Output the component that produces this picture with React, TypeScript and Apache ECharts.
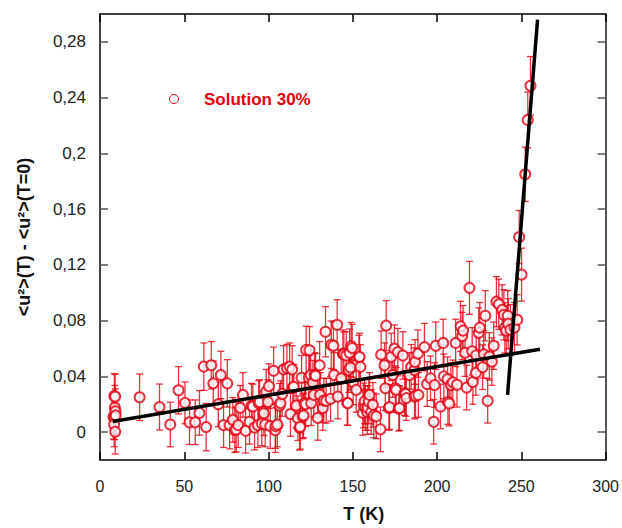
import React, { useEffect, useRef } from "react";
import * as echarts from "echarts";

// [T (K), <u²>(T)-<u²>(T=0), error]
const POINTS: number[][] = [
  [8, 0.011, 0.016], [8.5, 0.026, 0.016], [9, 0.0255, 0.016], [8.8, 0.0175, 0.016], [9.2, 0.015, 0.016],
  [8.6, 0.0106, 0.016], [8.4, 0.0055, 0.016], [9, 0.0003, 0.016], [9.3, 0.012, 0.014],
  [23.5, 0.025, 0.0167], [35.3, 0.018, 0.0165], [41.7, 0.0055, 0.016], [46.6, 0.03, 0.017], [50.4, 0.021, 0.015],
  [53.1, 0.0071, 0.016], [56.5, 0.0071, 0.016], [59, 0.0138, 0.016], [61.6, 0.047, 0.017], [63, 0.0036, 0.017],
  [66, 0.048, 0.017], [67.2, 0.035, 0.016], [70.2, 0.02, 0.016], [71.7, 0.041, 0.017], [73.3, 0.005, 0.016],
  [75.5, 0.035, 0.017], [76.9, 0.005, 0.017], [78.8, 0.0088, 0.016], [80, 0.0014, 0.016], [80.8, 0.0019, 0.016],
  [82, 0.005, 0.016], [83.2, 0.0175, 0.016], [84.8, 0.0267, 0.016], [86.4, 0.001, 0.016], [88.7, 0.0074, 0.016],
  [89.9, 0.019, 0.016], [90.7, 0.0184, 0.016], [91.7, 0.0033, 0.016], [93.7, 0.005, 0.016], [94.2, 0.0208, 0.016],
  [94.7, 0.0216, 0.016], [96, 0.0062, 0.016], [97.2, 0.0135, 0.016], [98, 0.0055, 0.016], [98.6, 0.029, 0.016],
  [99.6, 0.0216, 0.016], [100.2, 0.033, 0.016], [101, 0.0043, 0.016], [103, 0.044, 0.017], [104, 0.0014, 0.016],
  [104.2, 0.0043, 0.016], [105.2, 0.0055, 0.016], [106.5, 0.019, 0.016], [107.1, 0.0208, 0.016], [108.1, 0.0274, 0.016],
  [108.9, 0.045, 0.017], [110.9, 0.046, 0.017], [112.5, 0.047, 0.017], [113, 0.013, 0.016], [114, 0.045, 0.017],
  [114.4, 0.032, 0.016], [115, 0.0326, 0.016], [116.4, 0.019, 0.016], [117.4, 0.01, 0.016], [118.4, 0.0031, 0.016],
  [118.8, 0.0038, 0.016], [119.6, 0.039, 0.016], [120.3, 0.0113, 0.016], [120.8, 0.012, 0.016], [121.3, 0.0208, 0.016],
  [122, 0.02, 0.016], [122.3, 0.059, 0.017], [123.9, 0.039, 0.016], [124.3, 0.0587, 0.017], [125, 0.041, 0.016],
  [125.3, 0.0208, 0.016], [126.3, 0.0355, 0.016], [126.8, 0.0267, 0.016], [127.3, 0.041, 0.016], [127.9, 0.0404, 0.016],
  [129.2, 0.0102, 0.016], [130.3, 0.048, 0.017], [130.6, 0.0267, 0.016], [132.2, 0.0173, 0.016], [132.8, 0.0227, 0.016],
  [133.8, 0.072, 0.018], [134.2, 0.0225, 0.016], [136.8, 0.0239, 0.016], [137.2, 0.0627, 0.017], [138.5, 0.062, 0.017],
  [138.9, 0.041, 0.016], [140.7, 0.077, 0.018], [141.1, 0.0255, 0.016], [143.1, 0.0386, 0.016], [144.1, 0.0563, 0.017],
  [144.7, 0.0558, 0.016], [146.1, 0.055, 0.017], [146.7, 0.021, 0.016], [147, 0.0208, 0.016], [147.6, 0.0445, 0.016],
  [148.1, 0.057, 0.017], [148.6, 0.0464, 0.016], [149, 0.0617, 0.017], [149.6, 0.0603, 0.017], [150.2, 0.0357, 0.016],
  [152, 0.0303, 0.016], [153.6, 0.0535, 0.016], [154, 0.054, 0.017], [154.5, 0.0468, 0.016], [155.9, 0.0138, 0.016],
  [156.5, 0.0192, 0.016], [157, 0.022, 0.016], [157.5, 0.0173, 0.016], [158.5, 0.0145, 0.016], [158.9, 0.0173, 0.016],
  [159.5, 0.022, 0.016], [159.9, 0.0267, 0.016], [160.9, 0.0145, 0.016], [161.9, 0.0196, 0.016], [162.4, 0.012, 0.016],
  [163.9, 0.0113, 0.016], [166.4, 0.002, 0.016], [166.8, 0.0556, 0.017], [168.8, 0.048, 0.016], [169.3, 0.0315, 0.016],
  [169.8, 0.0764, 0.018], [171.4, 0.0173, 0.016], [171.8, 0.018, 0.016], [172.8, 0.054, 0.017], [173.7, 0.041, 0.016],
  [174.7, 0.0599, 0.017], [175.2, 0.0315, 0.016], [175.7, 0.0303, 0.016], [176.7, 0.0574, 0.017], [177.3, 0.0168, 0.016],
  [177.7, 0.0173, 0.016], [179.7, 0.055, 0.017], [180.7, 0.028, 0.016], [181.3, 0.0274, 0.016], [181.7, 0.0244, 0.016],
  [183.6, 0.041, 0.016], [184.6, 0.0468, 0.016], [186.6, 0.0445, 0.016], [186.9, 0.0503, 0.016], [186.6, 0.0255, 0.016],
  [187.2, 0.0262, 0.016], [188.6, 0.0563, 0.017], [188.9, 0.0267, 0.016], [192.5, 0.061, 0.017], [194.1, 0.0345, 0.016],
  [196.1, 0.0386, 0.016], [198, 0.0074, 0.016], [198.5, 0.0338, 0.016], [199.2, 0.062, 0.017], [202, 0.0184, 0.016],
  [203.6, 0.064, 0.017], [204, 0.04, 0.016], [206.2, 0.038, 0.016], [206.4, 0.0216, 0.016], [207.2, 0.0205, 0.016],
  [208.2, 0.0338, 0.016], [209.3, 0.0357, 0.016], [211, 0.064, 0.017], [211.8, 0.034, 0.016], [213.9, 0.0759, 0.018],
  [214.9, 0.069, 0.017], [215.4, 0.0728, 0.018], [216.6, 0.057, 0.017], [217.5, 0.032, 0.016], [219.2, 0.1035, 0.019],
  [220.8, 0.058, 0.017], [221.2, 0.036, 0.016], [223, 0.0425, 0.016], [223.2, 0.0551, 0.017], [224.7, 0.0712, 0.018],
  [225.3, 0.075, 0.018], [227, 0.0466, 0.016], [227.7, 0.0558, 0.017], [228.6, 0.0835, 0.018], [230, 0.0225, 0.016],
  [231, 0.0543, 0.017], [232.5, 0.0506, 0.017], [233.6, 0.062, 0.017], [235.2, 0.0936, 0.018], [236.6, 0.0918, 0.018],
  [238.6, 0.0877, 0.018], [239.6, 0.0842, 0.018], [240.2, 0.0748, 0.018], [241, 0.0728, 0.018], [241.9, 0.0835, 0.018],
  [242.2, 0.0778, 0.018], [243.5, 0.0735, 0.018], [245.9, 0.075, 0.018], [247.5, 0.0806, 0.018], [248.7, 0.14, 0.019],
  [250.1, 0.113, 0.019], [252.3, 0.185, 0.0195], [253.8, 0.224, 0.02], [255.4, 0.2485, 0.021],
];

const FIT_LOW: number[][] = [[7.5, 0.0076], [261, 0.0595]];
const FIT_HIGH: number[][] = [[241.8, 0.0267], [259.6, 0.296]];

const Y_TICKS = [0, 0.04, 0.08, 0.12, 0.16, 0.2, 0.24, 0.28];
const X_TICKS = [0, 50, 100, 150, 200, 250, 300];

const SERIES_NAME = "Solution 30%";
const X_NAME = "T (K)";
const Y_NAME = "<u²>(T) - <u²>(T=0)";

const RED = "#e3000f";
const FONT = "'Liberation Sans', Arial, sans-serif";

export default function App() {
  const ref = useRef<HTMLDivElement>(null);
  useEffect(() => {
    if (!ref.current) return;
    const chart = echarts.init(ref.current, null, { renderer: "svg" });
    const fmt = (v: number) => String(+Number(v).toFixed(2)).replace(".", ",");
    const grid = { left: 100, right: 16, top: 14, bottom: 62 };
    chart.setOption({
      animation: false,
      backgroundColor: "#fff",
      grid,
      xAxis: [
        {
          type: "value", min: 0, max: 300, interval: 50, position: "bottom",
          name: X_NAME, nameLocation: "middle", nameGap: 45,
          nameTextStyle: { fontFamily: FONT, fontSize: 18, fontWeight: "bold", color: "#111", padding: [0, 0, 0, 22] },
          axisLine: { show: true, onZero: false, lineStyle: { color: "#000", width: 1.5 } },
          axisTick: { show: true, inside: true, length: 8, lineStyle: { color: "#000", width: 1.5 } },
          axisLabel: { show: true, margin: 18, fontFamily: FONT, fontSize: 16, color: "#222", customValues: X_TICKS },
          splitLine: { show: false },
        },
        {
          type: "value", min: 0, max: 300, interval: 50, position: "top",
          axisLine: { show: true, onZero: false, lineStyle: { color: "#000", width: 1.5 } },
          axisTick: { show: true, inside: true, length: 8, lineStyle: { color: "#000", width: 1.5 } },
          axisLabel: { show: false },
          splitLine: { show: false },
        },
      ],
      yAxis: [
        {
          type: "value", min: -0.02, max: 0.3, position: "left",
          name: Y_NAME, nameLocation: "middle", nameGap: 67, nameRotate: 90,
          nameTextStyle: { fontFamily: FONT, fontSize: 18, fontWeight: "bold", color: "#111" },
          axisLine: { show: true, onZero: false, lineStyle: { color: "#000", width: 1.5 } },
          axisTick: { show: true, inside: true, length: 8, lineStyle: { color: "#555", width: 1.5 }, customValues: Y_TICKS },
          axisLabel: { show: true, margin: 14, fontFamily: FONT, fontSize: 17, color: "#222", customValues: Y_TICKS, formatter: fmt },
          splitLine: { show: false },
        },
        {
          type: "value", min: -0.02, max: 0.3, position: "right",
          axisLine: { show: true, onZero: false, lineStyle: { color: "#555", width: 2 } },
          axisTick: { show: true, inside: true, length: 8, lineStyle: { color: "#555", width: 1.5 }, customValues: Y_TICKS },
          axisLabel: { show: false },
          splitLine: { show: false },
        },
      ],
      series: [
        {
          type: "custom",
          name: "error",
          data: POINTS,
          encode: { x: 0, y: 1 },
          z: 2,
          silent: true,
          renderItem: (params: any, api: any) => {
            const x = api.value(0), y = api.value(1), e = api.value(2);
            const top = api.coord([x, y + e]);
            const bot = api.coord([x, y - e]);
            const hw = 3.5;
            const style = { stroke: "rgba(226,0,12,0.8)", lineWidth: 1.3, fill: null };
            return {
              type: "group",
              children: [
                { type: "line", shape: { x1: top[0], y1: top[1], x2: bot[0], y2: bot[1] }, style },
                { type: "line", shape: { x1: top[0] - hw, y1: top[1], x2: top[0] + hw, y2: top[1] }, style },
                { type: "line", shape: { x1: bot[0] - hw, y1: bot[1], x2: bot[0] + hw, y2: bot[1] }, style },
              ],
            };
          },
        },
        {
          type: "scatter",
          name: SERIES_NAME,
          data: POINTS.map((p) => [p[0], p[1]]),
          symbol: "emptyCircle",
          symbolSize: 10,
          z: 3,
          itemStyle: { color: RED, borderColor: RED, borderWidth: 1 },
        },
        {
          type: "line", data: FIT_LOW, showSymbol: false, symbol: "none", z: 4,
          lineStyle: { color: "#000", width: 3.5 },
        },
        {
          type: "line", data: FIT_HIGH, showSymbol: false, symbol: "none", z: 4,
          lineStyle: { color: "#000", width: 3.5 },
        },
      ],
      graphic: [
        { type: "circle", shape: { cx: 174, cy: 99, r: 4.5 }, style: { fill: "#fff", stroke: RED, lineWidth: 1 } },
        {
          type: "text", x: 204, y: 99,
          style: { text: SERIES_NAME, fill: RED, font: `bold 17px ${FONT}`, verticalAlign: "middle", align: "left" },
        },
      ],
    });
    return () => chart.dispose();
  }, []);
  return <div ref={ref} style={{ position: "fixed", left: 0, top: 0, width: 622, height: 528 }} />;
}
